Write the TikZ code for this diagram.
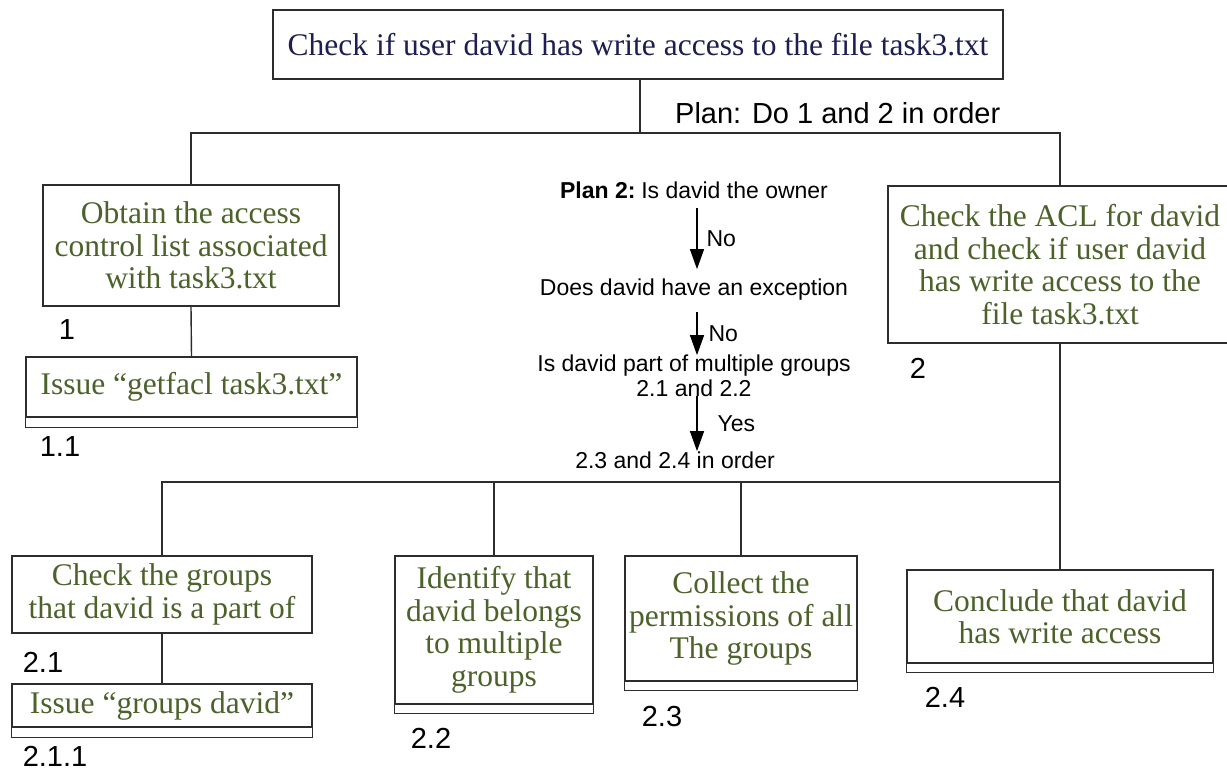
\documentclass[tikz,border=0pt]{standalone}
\usepackage{fontspec}
\setmainfont{Liberation Serif}
\newfontfamily\plansans{Liberation Sans}
\usetikzlibrary{arrows.meta}
\definecolor{taskgreen}{RGB}{76,98,42}
\definecolor{tasknavy}{RGB}{30,30,82}
\definecolor{boxline}{RGB}{45,45,45}
\begin{document}
\begin{tikzpicture}[x=1pt,y=-1pt,
  taskbox/.style={draw=boxline,line width=1.4pt,fill=white,inner sep=0pt,align=center,text=taskgreen,font=\fontsize{31.5}{32.5}\selectfont},
  strip/.style={draw=boxline,line width=1.4pt},
  steplabel/.style={font=\plansans\fontsize{29}{30}\selectfont,inner sep=0pt,anchor=base},
  plantext/.style={font=\plansans\fontsize{23}{25}\selectfont,inner sep=0pt,align=center,anchor=base},
  tree/.style={draw=boxline,line width=1.4pt},
  planarrow/.style={line width=1.2pt,-{Triangle[width=14pt,length=20pt]}}]
\path[fill=white,use as bounding box] (0,0) rectangle (1227,771);
\clip (0,0) rectangle (1227,771);

\node[taskbox,text=tasknavy,minimum width=730pt,minimum height=69pt] (goal) at (638,44.5) {Check if user david has write access to the file task3.txt};
\node[steplabel,anchor=base west] (plan1) at (675,123) {Plan: Do 1 and 2 in order};

\node[taskbox,minimum width=296pt,minimum height=121pt] (obtain) at (191,245.5) {Obtain the access\\control list associated\\with task3.txt};
\node[taskbox,minimum width=344pt,minimum height=157pt] (acl) at (1060,264.5) {Check the ACL for david\\and check if user david\\has write access to the\\file task3.txt};
\node[taskbox,minimum width=331pt,minimum height=60pt] (getfacl) at (191.5,387) {Issue “getfacl task3.txt”};
\draw[strip] (getfacl.south west) rectangle ([yshift=-10pt]getfacl.south east);

\node[taskbox,minimum width=300pt,minimum height=77pt] (groups) at (162,594.5) {Check the groups\\that david is a part of};
\node[taskbox,minimum width=300pt,minimum height=43pt] (groupsdavid) at (162,705.5) {Issue “groups david”};
\draw[strip] (groupsdavid.south west) rectangle ([yshift=-10pt]groupsdavid.south east);
\node[taskbox,minimum width=198pt,minimum height=148pt] (identify) at (494,630) {Identify that\\david belongs\\to multiple\\groups};
\draw[strip] (identify.south west) rectangle ([yshift=-9pt]identify.south east);
\node[taskbox,minimum width=232pt,minimum height=125pt] (collect) at (741,618.5) {Collect the\\permissions of all\\The groups};
\draw[strip] (collect.south west) rectangle ([yshift=-9pt]collect.south east);
\node[taskbox,minimum width=306pt,minimum height=93pt] (conclude) at (1060,616.5) {Conclude that david\\has write access};
\draw[strip] (conclude.south west) rectangle ([yshift=-9pt]conclude.south east);

\node[steplabel] (n1) at (67,339.5) {1};
\node[steplabel] (n11) at (60,456) {1.1};
\node[steplabel] (n2) at (918,378.5) {2};
\node[steplabel] (n21) at (43,672.5) {2.1};
\node[steplabel] (n211) at (55,766) {2.1.1};
\node[steplabel] (n22) at (431,748.5) {2.2};
\node[steplabel] (n23) at (662,726.5) {2.3};
\node[steplabel] (n24) at (945,707.5) {2.4};

\node[plantext] (owner) at (694,198) {\textbf{Plan 2:}\hspace{-0.12em} Is david the owner};
\node[plantext] (exception) at (694,295) {Does david have an exception};
\node[plantext] (multiple) at (694,396) {Is david part of multiple groups\\2.1 and 2.2};
\node[plantext] (inorder) at (675,468) {2.3 and 2.4 in order};
\draw[planarrow] ([xshift=3pt,yshift=-10pt]owner.south) -- ([xshift=3pt,yshift=9pt]owner.south |- exception.north) node[plantext,midway,anchor=west,xshift=9pt] {No};
\draw[planarrow] ([xshift=3pt,yshift=-12pt]exception.south) -- ([xshift=3pt,yshift=-1pt]exception.south |- multiple.north) node[plantext,midway,anchor=west,xshift=11pt] {No};
\draw[planarrow] ([xshift=3pt]multiple.south) -- ([xshift=3pt]multiple.south |- inorder.north) node[plantext,midway,anchor=west,xshift=20pt] {Yes};

\coordinate (bus1) at (640,133);
\coordinate (bus2) at (640,482);
\draw[tree] (goal.south -| bus1) -- (bus1);
\draw[tree] (obtain.north) -- (obtain.north |- bus1) -- (acl.north |- bus1) -- (acl.north);
\draw[tree] (obtain.south) -- (getfacl.north);
\draw[tree] (acl.south) -- (conclude.north);
\draw[tree] (groups.north) -- (groups.north |- bus2) -- (conclude.north |- bus2);
\draw[tree] (identify.north) -- (identify.north |- bus2);
\draw[tree] (collect.north) -- (collect.north |- bus2);
\draw[tree] (groups.south) -- (groupsdavid.north);
\end{tikzpicture}
\end{document}
